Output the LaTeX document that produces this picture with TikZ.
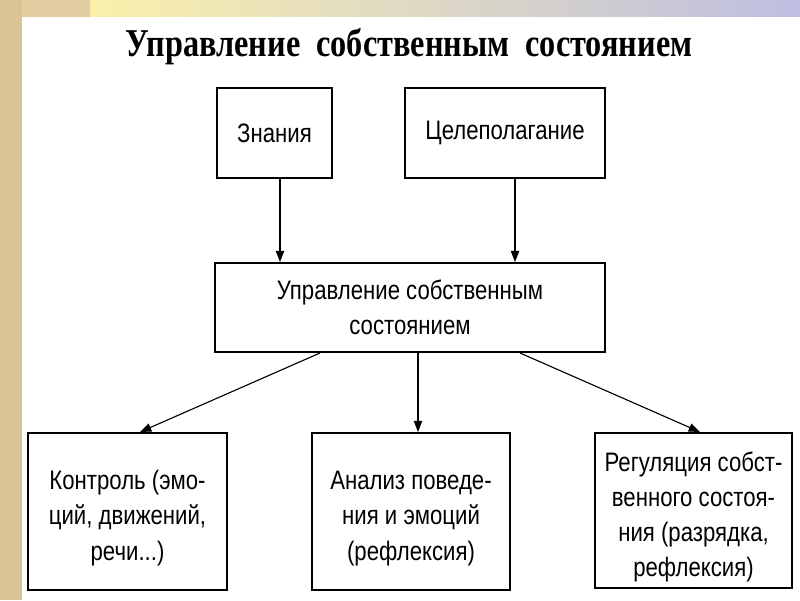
\documentclass[tikz,border=0pt]{standalone}
\usepackage{fontspec}
\setmainfont[FakeStretch=0.83]{Liberation Sans}
\newfontfamily\titlefont[FakeStretch=0.82]{Liberation Serif}
\usetikzlibrary{arrows.meta}
\definecolor{parch}{RGB}{226,206,160}
\definecolor{parchdark}{RGB}{218,196,150}
\definecolor{topyellow}{RGB}{250,240,170}
\definecolor{toplav}{RGB}{190,190,225}
\newcommand\lowstrut{\rule{0pt}{23pt}}
\tikzset{
  box/.style={draw=black, line width=1.4pt, inner sep=0pt, align=center, font=\fontsize{19}{25}\selectfont},
  arr/.style={-{Triangle[length=8pt,width=6pt]}, line width=0.8pt}
}
\begin{document}
\begin{tikzpicture}[x=0.025cm,y=-0.025cm]
\useasboundingbox (0,0) rectangle (800,600);
% background
\fill[parch] (0,0) rectangle (800,600);
\shade[left color=topyellow, right color=toplav] (90,0) rectangle (800,17);
\fill[parchdark] (0,0) rectangle (22,600);
\fill[white] (22,17) rectangle (800,600);
% title
\node[font=\titlefont\bfseries\fontsize{28}{32}\selectfont] (title) at (409,47) {Управление\ \ собственным\ \ состоянием};
% boxes
\node[box, minimum width=115*0.025cm, minimum height=90*0.025cm] (zn) at (274.5,133) {Знания};
\node[box, minimum width=200*0.025cm, minimum height=90*0.025cm] (cel) at (505,133) {Целеполагание};
\node[box, minimum width=390*0.025cm, minimum height=89*0.025cm] (mid) at (410,307.5) {Управление собственным\\состоянием};
\node[box, minimum width=199*0.025cm, minimum height=157*0.025cm] (b1) at (127.5,511.5) {\lowstrut Контроль (эмо-\\ций, движений,\\речи...)};
\node[box, minimum width=198*0.025cm, minimum height=157*0.025cm] (b2) at (411,511.5) {\lowstrut Анализ поведе-\\ния и эмоций\\(рефлексия)};
\node[box, minimum width=197*0.025cm, minimum height=155*0.025cm] (b3) at (693.5,510.5) {\lowstrut Регуляция собст-\\венного состоя-\\ния (разрядка,\\рефлексия)};
% arrows
\draw[arr] (zn.south -| 280,0) -- (mid.north -| 280,0);
\draw[arr] (cel.south -| 515,0) -- (mid.north -| 515,0);
\draw[arr] (mid.south -| 320,0) -- (b1.north -| 140,0);
\draw[arr] (mid.south -| 418,0) -- (b2.north -| 418,0);
\draw[arr] (mid.south -| 520,0) -- (b3.north -| 700,0);
\end{tikzpicture}
\end{document}
